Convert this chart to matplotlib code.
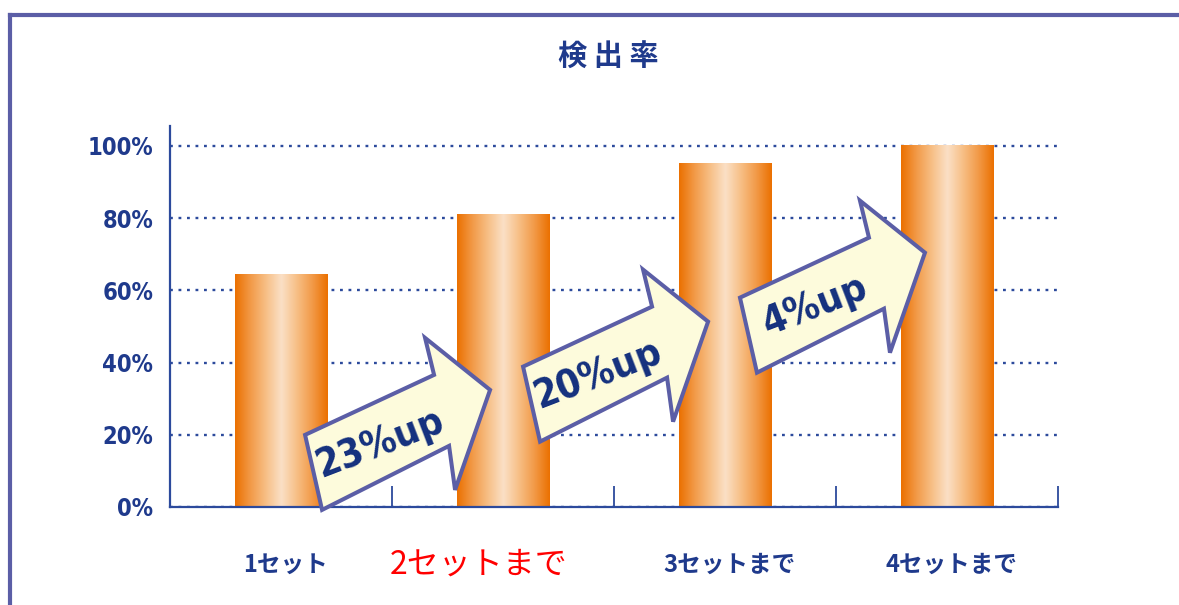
"""Detection rate by number of sets (bar chart with step-up arrows)
"""
import numpy as np
import matplotlib
matplotlib.use("Agg")
import matplotlib.pyplot as plt
from matplotlib import font_manager
from matplotlib.colors import LinearSegmentedColormap
from matplotlib.lines import Line2D
from matplotlib.patches import Polygon
from matplotlib.transforms import IdentityTransform

# -------
# Data
# -------
categories = ["1セット", "2セットまで", "3セットまで", "4セットまで"]
detection_rate = [64.5, 81, 95, 100]
y_ticks = [0, 20, 40, 60, 80, 100]
step_labels = ["23%up", "20%up", "4%up"]
title = "検 出 率"

# arrow anchors (data coords of the lower tail corner)
arrow_x = [0.185, 1.167, 2.144]
arrow_y = [-0.8, 18.1, 37.2]

NAVY = "#1f3a8c"
AXIS = "#2c4a9c"
FRAME = "#5b5ea6"

# Narrow latin font if available
names = {f.name for f in font_manager.fontManager.ttflist}
if "Liberation Sans Narrow" in names:
    num_font = dict(family="Liberation Sans Narrow", fontweight="bold")
    tick_size, arrow_size = 20, 32
else:
    num_font = dict(family="DejaVu Sans", stretch="condensed", fontweight="bold")
    tick_size, arrow_size = 17, 28
JP = ["Noto Sans CJK JP", "DejaVu Sans"]

fig = plt.figure(figsize=(11.79, 6.05), dpi=100)
ax = fig.add_axes([170 / 1179, 1 - 507 / 605, 888 / 1179, 381 / 605])

x_pos = np.arange(len(categories))
bar_width = 0.415

# ----------
# Gradient bars
# ----------
bar_cmap = LinearSegmentedColormap.from_list(
    "bar", ["#eb7000", "#f29a48", "#f7bf86", "#fbe0c6", "#f7bf86", "#f29a48", "#eb7000"])
grad = np.linspace(0, 1, 256).reshape(1, -1)
for x, val in zip(x_pos, detection_rate):
    ax.imshow(grad, extent=(x - bar_width / 2, x + bar_width / 2, 0, val),
              cmap=bar_cmap, aspect="auto", zorder=2, interpolation="bicubic")
ax.set_xlim(-0.5, len(categories) - 0.5)
ax.set_ylim(0, 105.5)
ax.set_aspect("auto")

# -------
# Axis
# -------
for side in ["top", "right"]:
    ax.spines[side].set_visible(False)
for side in ["left", "bottom"]:
    ax.spines[side].set_color(AXIS)
    ax.spines[side].set_linewidth(1.6)

ax.set_yticks(y_ticks)
ax.set_yticklabels(["{}%".format(v) for v in y_ticks], color=NAVY,
                   fontsize=tick_size, **num_font)
ax.tick_params(axis="y", length=0, pad=12)
ax.yaxis.grid(True, color=AXIS, linewidth=1.7, linestyle=(0, (1.2, 2.4)))
ax.set_axisbelow(True)

ax.set_xticks([])
ax.set_xticks(x_pos + 0.5, minor=True)
ax.tick_params(axis="x", which="minor", direction="in", length=15,
               width=1.3, color=AXIS)

# category labels below axis
label_shift = [0.02, -0.11, 0.02, 0.02]
for x, lab, dx in zip(x_pos, categories, label_shift):
    if x == 1:
        ax.text(x + dx, -16, lab, ha="center", va="center", color="red",
                fontsize=23, family=JP)
    else:
        ax.text(x + dx, -16, lab, ha="center", va="center", color=NAVY,
                fontsize=17, fontweight="bold", family=JP)

# -------
# Step-up arrows (drawn in pixel space)
# -------
arrow_shape = np.array([(0, 0), (127, 64), (133, 20), (168, 120),
                        (103, 172), (112, 135), (-17, 75)], dtype=float)
fig.canvas.draw()
for ax_x, ax_y, lab in zip(arrow_x, arrow_y, step_labels):
    px, py = ax.transData.transform((ax_x, ax_y))
    poly = Polygon(arrow_shape + [px, py], closed=True, facecolor="#fdfbdc",
                   edgecolor=FRAME, linewidth=2.9, joinstyle="miter",
                   transform=IdentityTransform(), zorder=5, clip_on=False)
    ax.add_artist(poly)
    ax.text(px + 58, py + 67, lab, transform=IdentityTransform(),
            rotation=21, rotation_mode="anchor", ha="center", va="center",
            color="#14307e", fontsize=arrow_size, zorder=6, **num_font)

# -------
# Title and frame
# -------
fig.text(608 / 1179, 1 - 57 / 605, title, ha="center", va="center",
         fontsize=21, fontweight="bold", color=NAVY, family=JP)

fig.add_artist(Line2D([10 / 1179, 10 / 1179], [0, 1 - 14.5 / 605],
                      transform=fig.transFigure, color=FRAME, linewidth=3,
                      solid_capstyle="projecting"))
fig.add_artist(Line2D([10 / 1179, 1], [1 - 14.5 / 605, 1 - 14.5 / 605],
                      transform=fig.transFigure, color=FRAME, linewidth=3,
                      solid_capstyle="projecting"))

plt.savefig("out.png", dpi=100)
plt.close()
